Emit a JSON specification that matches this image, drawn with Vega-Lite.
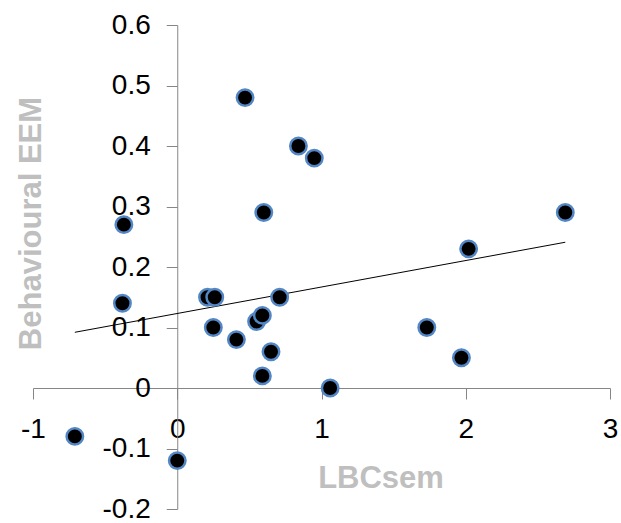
{
  "$schema": "https://vega.github.io/schema/vega-lite/v6.json",
  "width": 577,
  "height": 484,
  "autosize": "none",
  "padding": {"left": 33, "top": 25, "right": 11, "bottom": 14},
  "background": "white",
  "config": {
    "view": {"stroke": null},
    "font": "Liberation Sans"
  },
  "data": {
    "values": [
      {"LBCsem": -0.71, "EEM": -0.08},
      {"LBCsem": 0.0, "EEM": -0.12},
      {"LBCsem": -0.37, "EEM": 0.27},
      {"LBCsem": -0.38, "EEM": 0.14},
      {"LBCsem": 0.47, "EEM": 0.48},
      {"LBCsem": 0.84, "EEM": 0.40},
      {"LBCsem": 0.95, "EEM": 0.38},
      {"LBCsem": 0.60, "EEM": 0.29},
      {"LBCsem": 2.69, "EEM": 0.29},
      {"LBCsem": 2.02, "EEM": 0.23},
      {"LBCsem": 0.21, "EEM": 0.15},
      {"LBCsem": 0.26, "EEM": 0.15},
      {"LBCsem": 0.25, "EEM": 0.10},
      {"LBCsem": 0.41, "EEM": 0.08},
      {"LBCsem": 0.55, "EEM": 0.11},
      {"LBCsem": 0.59, "EEM": 0.12},
      {"LBCsem": 0.71, "EEM": 0.15},
      {"LBCsem": 0.65, "EEM": 0.06},
      {"LBCsem": 0.59, "EEM": 0.02},
      {"LBCsem": 1.06, "EEM": 0.0},
      {"LBCsem": 1.73, "EEM": 0.10},
      {"LBCsem": 1.97, "EEM": 0.05}
    ]
  },
  "encoding": {
    "x": {
      "field": "LBCsem",
      "type": "quantitative",
      "scale": {"domain": [-1, 3], "nice": false, "zero": false},
      "axis": {
        "title": "LBCsem",
        "values": [-1, 0, 1, 2, 3],
        "format": "d",
        "labelExpr": "replace(datum.label, '−', '-')",
        "offset": -121,
        "grid": false,
        "domainColor": "#868686",
        "tickColor": "#868686",
        "tickSize": 11,
        "labelPadding": 16,
        "labelFontSize": 28,
        "labelColor": "#000000",
        "labelFont": "Liberation Sans",
        "labelFlush": false,
        "labelOverlap": false,
        "titleFont": "Liberation Sans",
        "titleFontSize": 31,
        "titleFontWeight": "bold",
        "titleColor": "#bfbfbf",
        "titleX": 347.5,
        "titleY": 99,
        "titleAlign": "center",
        "titleBaseline": "alphabetic"
      }
    },
    "y": {
      "field": "EEM",
      "type": "quantitative",
      "scale": {"domain": [-0.2, 0.6], "nice": false, "zero": false},
      "axis": {
        "title": "Behavioural EEM",
        "values": [-0.2, -0.1, 0, 0.1, 0.2, 0.3, 0.4, 0.5, 0.6],
        "format": "~g",
        "labelExpr": "replace(datum.label, '−', '-')",
        "offset": -144.25,
        "grid": false,
        "domainColor": "#868686",
        "tickColor": "#868686",
        "tickSize": 11,
        "labelPadding": 16,
        "labelFontSize": 28,
        "labelColor": "#000000",
        "labelFont": "Liberation Sans",
        "labelFlush": false,
        "labelOverlap": false,
        "titleFont": "Liberation Sans",
        "titleFontSize": 31,
        "titleFontWeight": "bold",
        "titleColor": "#bfbfbf",
        "titleX": -136.5,
        "titleY": 198,
        "titleAngle": -90,
        "titleAlign": "center",
        "titleBaseline": "alphabetic"
      }
    }
  },
  "layer": [
    {
      "transform": [{"regression": "EEM", "on": "LBCsem"}],
      "mark": {"type": "line", "color": "#000000", "strokeWidth": 1}
    },
    {
      "mark": {
        "type": "point",
        "shape": "circle",
        "filled": true,
        "fill": "#000000",
        "stroke": "#5286c4",
        "strokeWidth": 2.5,
        "size": 270,
        "opacity": 1
      }
    }
  ]
}
